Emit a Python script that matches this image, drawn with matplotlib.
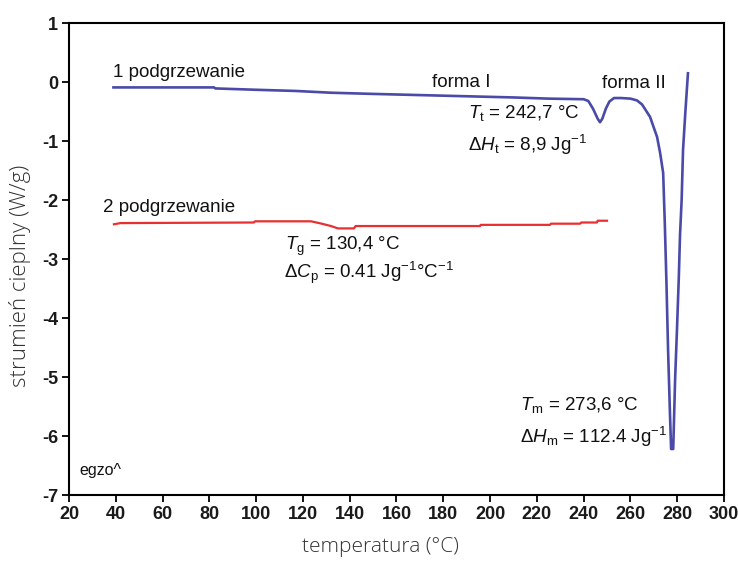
import matplotlib
matplotlib.use("Agg")
import matplotlib.pyplot as plt

plt.rcParams['font.family'] = ['Liberation Sans', 'DejaVu Sans']
plt.rcParams['mathtext.fontset'] = 'custom'
plt.rcParams['mathtext.rm'] = 'Liberation Sans'
plt.rcParams['mathtext.it'] = 'Liberation Sans:italic'
plt.rcParams['mathtext.bf'] = 'Liberation Sans:bold'
plt.rcParams['axes.unicode_minus'] = False

# 1 podgrzewanie (first heating)
temp1 = [39, 82, 82.5, 100, 117, 132, 150, 170, 190, 210, 225, 240, 242, 244,
         246, 247, 248, 249.5, 251, 253, 256, 260, 262.8, 265, 268.4, 271.4,
         272.7, 274.0, 274.7, 275.4, 276.1, 276.9, 277.4, 278.3, 279.1, 279.9,
         280.7, 281.2, 281.9, 282.5, 283.5, 284.6]
flow1 = [-0.09, -0.09, -0.107, -0.13, -0.15, -0.18, -0.2, -0.22, -0.24, -0.26,
         -0.28, -0.29, -0.32, -0.45, -0.62, -0.68, -0.62, -0.45, -0.33, -0.27,
         -0.27, -0.28, -0.31, -0.38, -0.59, -0.93, -1.2, -1.54, -2.39, -3.39,
         -4.54, -5.61, -6.22, -6.22, -5.05, -4.2, -3.3, -2.6, -2.0, -1.15,
         -0.5, 0.15]

# 2 podgrzewanie (second heating)
temp2 = [39.2, 42, 99, 99.5, 123.5, 128, 132, 135, 141.8, 142.5, 195.7, 196,
         225.6, 226, 238.5, 239, 245.7, 246, 250]
flow2 = [-2.41, -2.39, -2.38, -2.36, -2.36, -2.40, -2.44, -2.48, -2.48, -2.44,
         -2.44, -2.42, -2.42, -2.40, -2.40, -2.38, -2.38, -2.35, -2.35]

xticks = list(range(20, 301, 20))
yticks = list(range(-7, 2))

fig = plt.figure(figsize=(7.38, 5.64), dpi=100)
ax = fig.add_axes([0.0935, 0.1223, 0.8875, 0.8367])

ax.plot(temp1, flow1, color='#4a4aa8', lw=1.9)
ax.plot(temp2, flow2, color='#e83030', lw=1.6)

ax.set_xlim(20, 300)
ax.set_ylim(-7, 1)
ax.set_xticks(xticks)
ax.set_yticks(yticks)
ax.tick_params(direction='out', length=5, width=1.3, labelsize=13, pad=3)
for t in ax.get_xticklabels() + ax.get_yticklabels():
    t.set_fontweight('bold')
    t.set_color('#1a1a1a')
for s in ax.spines.values():
    s.set_linewidth(1.5)

lab = dict(fontsize=13.5, color='#111111')
ax.text(39, 0.17, '1 podgrzewanie', va='center', **lab)
ax.text(175, 0.0, 'forma I', va='center', **lab)
ax.text(248, -0.02, 'forma II', va='center', **lab)
ax.text(190.5, -0.53, r'$\mathit{T}_\mathrm{t}$ = 242,7 °C', va='center', **lab)
ax.text(190.5, -1.07, r'$\Delta\mathit{H}_\mathrm{t}$ = 8,9 Jg$^\mathrm{-1}$', va='center', **lab)
ax.text(34.5, -2.12, '2 podgrzewanie', va='center', **lab)
ax.text(112.5, -2.78, r'$\mathit{T}_\mathrm{g}$ = 130,4 °C', va='center', **lab)
ax.text(112, -3.24, r'$\Delta\mathit{C}_\mathrm{p}$ = 0.41 Jg$^\mathrm{-1}$°C$^\mathrm{-1}$', va='center', **lab)
ax.text(213, -5.47, r'$\mathit{T}_\mathrm{m}$ = 273,6 °C', va='center', **lab)
ax.text(213, -6.02, r'$\Delta\mathit{H}_\mathrm{m}$ = 112.4 Jg$^\mathrm{-1}$', va='center', **lab)
ax.text(24.5, -6.58, 'egzo^', va='center', fontsize=11.5, color='#111111')

ax.set_xlabel('temperatura (°C)', fontsize=15, family='Open Sans',
              fontweight='light', color='#333333')
ax.set_ylabel('strumień cieplny (W/g)', fontsize=16, family='Open Sans',
              fontweight='light', color='#333333')
ax.xaxis.set_label_coords(0.475, -0.088)
ax.yaxis.set_label_coords(-0.058, 0.464)

fig.savefig('out.png', dpi=100)
